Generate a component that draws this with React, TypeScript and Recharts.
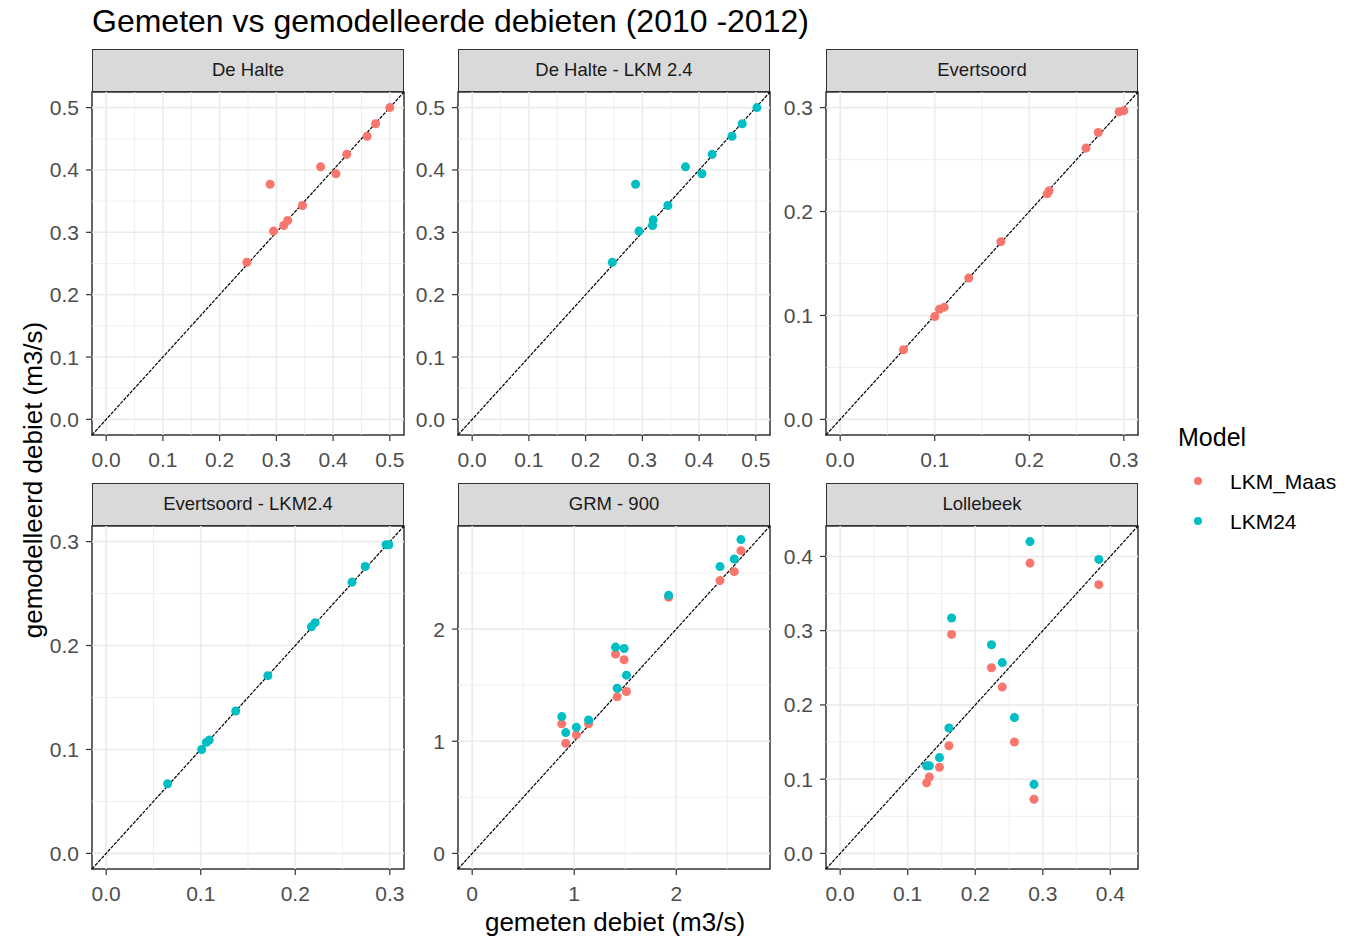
import React from 'react';
import { ScatterChart, Scatter, XAxis, YAxis, ZAxis, ReferenceLine, ReferenceArea } from 'recharts';

const MAAS_COLOR = '#F8766D';
const LKM24_COLOR = '#00BFC4';

// De Halte (LKM_Maas)
const deHalteObs = [0.248, 0.289, 0.295, 0.313, 0.32, 0.346, 0.378, 0.405, 0.424, 0.46, 0.475, 0.5];
const deHalteMod = [0.252, 0.377, 0.302, 0.311, 0.319, 0.343, 0.405, 0.394, 0.425, 0.454, 0.474, 0.5];

// De Halte - LKM 2.4 (LKM24)
const deHalteLkmObs = [0.247, 0.288, 0.294, 0.318, 0.319, 0.345, 0.376, 0.405, 0.423, 0.458, 0.476, 0.502];
const deHalteLkmMod = [0.252, 0.377, 0.302, 0.311, 0.32, 0.343, 0.405, 0.394, 0.425, 0.454, 0.474, 0.5];

// Evertsoord (LKM_Maas)
const evertObs = [0.067, 0.1, 0.105, 0.11, 0.136, 0.17, 0.219, 0.221, 0.26, 0.273, 0.295, 0.3];
const evertMod = [0.067, 0.099, 0.106, 0.108, 0.136, 0.171, 0.217, 0.22, 0.261, 0.276, 0.296, 0.297];

// Evertsoord - LKM2.4 (LKM24)
const evertLkmObs = [0.065, 0.101, 0.106, 0.109, 0.137, 0.171, 0.217, 0.221, 0.26, 0.274, 0.296, 0.299];
const evertLkmMod = [0.067, 0.1, 0.107, 0.109, 0.137, 0.171, 0.218, 0.222, 0.261, 0.276, 0.297, 0.297];

// GRM - 900 (both models)
const grmObs = [0.878, 0.917, 1.021, 1.141, 1.405, 1.489, 1.421, 1.512, 1.925, 2.429, 2.569, 2.634];
const grmMaas = [1.155, 0.982, 1.057, 1.155, 1.777, 1.726, 1.396, 1.443, 2.283, 2.432, 2.512, 2.699];
const grmLkm24 = [1.22, 1.077, 1.125, 1.19, 1.839, 1.827, 1.473, 1.589, 2.301, 2.557, 2.625, 2.798];

// Lollebeek (both models)
const lolObs = [0.128, 0.132, 0.147, 0.161, 0.165, 0.224, 0.24, 0.258, 0.281, 0.287, 0.383];
const lolMaas = [0.095, 0.103, 0.116, 0.145, 0.295, 0.25, 0.224, 0.15, 0.391, 0.073, 0.362];
const lolLkm24 = [0.118, 0.118, 0.129, 0.169, 0.317, 0.281, 0.257, 0.183, 0.42, 0.093, 0.396];

// axis breaks
const halfTicks = [0, 0.1, 0.2, 0.3, 0.4, 0.5];
const halfMinor = [0.05, 0.15, 0.25, 0.35, 0.45];
const thirdTicks = [0, 0.1, 0.2, 0.3];
const thirdMinor = [0.05, 0.15, 0.25];
const grmTicks = [0, 1, 2];
const grmMinor = [0.5, 1.5, 2.5];
const lolTicks = [0, 0.1, 0.2, 0.3, 0.4];
const lolMinor = [0.05, 0.15, 0.25, 0.35];

const legendItems = [
  { name: 'LKM_Maas', color: MAAS_COLOR },
  { name: 'LKM24', color: LKM24_COLOR },
];

const toPoints = (obs: number[], mod: number[]) => obs.map((x, i) => ({ x, y: mod[i] }));

const panels = [
  { title: 'De Halte', col: 0, row: 0, domain: [-0.025, 0.525], ticks: halfTicks, minor: halfMinor, digits: 1,
    series: [{ color: MAAS_COLOR, data: toPoints(deHalteObs, deHalteMod) }] },
  { title: 'De Halte - LKM 2.4', col: 1, row: 0, domain: [-0.025, 0.525], ticks: halfTicks, minor: halfMinor, digits: 1,
    series: [{ color: LKM24_COLOR, data: toPoints(deHalteLkmObs, deHalteLkmMod) }] },
  { title: 'Evertsoord', col: 2, row: 0, domain: [-0.015, 0.315], ticks: thirdTicks, minor: thirdMinor, digits: 1,
    series: [{ color: MAAS_COLOR, data: toPoints(evertObs, evertMod) }] },
  { title: 'Evertsoord - LKM2.4', col: 0, row: 1, domain: [-0.015, 0.315], ticks: thirdTicks, minor: thirdMinor, digits: 1,
    series: [{ color: LKM24_COLOR, data: toPoints(evertLkmObs, evertLkmMod) }] },
  { title: 'GRM - 900', col: 1, row: 1, domain: [-0.139, 2.919], ticks: grmTicks, minor: grmMinor, digits: 0,
    series: [
      { color: MAAS_COLOR, data: toPoints(grmObs, grmMaas) },
      { color: LKM24_COLOR, data: toPoints(grmObs, grmLkm24) },
    ] },
  { title: 'Lollebeek', col: 2, row: 1, domain: [-0.021, 0.441], ticks: lolTicks, minor: lolMinor, digits: 1,
    series: [
      { color: MAAS_COLOR, data: toPoints(lolObs, lolMaas) },
      { color: LKM24_COLOR, data: toPoints(lolObs, lolLkm24) },
    ] },
];

const COL_X = [92, 458, 826];
const ROW_Y = [92, 526];
const PLOT_W = 312;
const PLOT_H = 343;
const STRIP_H = 43;
const Y_AXIS_W = 60;
const X_AXIS_H = 40;
const PAD = 2;
const FONT = '"Liberation Sans", Arial, sans-serif';

function Panel({ p }: { p: (typeof panels)[number] }) {
  const [d0, d1] = p.domain;
  const fmt = (v: number) => v.toFixed(p.digits);
  const left = COL_X[p.col];
  const top = ROW_Y[p.row];
  return (
    <>
      <div
        style={{
          position: 'absolute', left, top: top - STRIP_H, width: PLOT_W, height: STRIP_H,
          boxSizing: 'border-box', border: '1.5px solid #333333', background: '#D9D9D9',
          display: 'flex', alignItems: 'center', justifyContent: 'center',
          fontSize: 18.5, lineHeight: 1, color: '#1A1A1A',
        }}
      >
        {p.title}
      </div>
      <div style={{ position: 'absolute', left: left - Y_AXIS_W, top: top - PAD }}>
        <ScatterChart
          width={Y_AXIS_W + PLOT_W + PAD}
          height={PAD + PLOT_H + X_AXIS_H}
          margin={{ top: PAD, right: PAD, bottom: 0, left: 0 }}
        >
          <XAxis
            type="number" dataKey="x" domain={p.domain} allowDataOverflow ticks={p.ticks} interval={0}
            tickFormatter={fmt} height={X_AXIS_H} axisLine={false} tickSize={6} tickMargin={11}
            tickLine={{ stroke: '#333333', strokeWidth: 1.2 }} tick={{ fill: '#4D4D4D', fontSize: 21 }}
          />
          <YAxis
            type="number" dataKey="y" domain={p.domain} allowDataOverflow ticks={p.ticks} interval={0}
            tickFormatter={fmt} width={Y_AXIS_W} axisLine={false} tickSize={6} tickMargin={7}
            tickLine={{ stroke: '#333333', strokeWidth: 1.2 }} tick={{ fill: '#4D4D4D', fontSize: 21 }}
          />
          <ZAxis range={[56, 56]} />
          {p.minor.map((v) => (
            <ReferenceLine key={'mx' + v} x={v} stroke="#EBEBEB" strokeWidth={0.8} />
          ))}
          {p.minor.map((v) => (
            <ReferenceLine key={'my' + v} y={v} stroke="#EBEBEB" strokeWidth={0.8} />
          ))}
          {p.ticks.map((v) => (
            <ReferenceLine key={'gx' + v} x={v} stroke="#EBEBEB" strokeWidth={1.6} />
          ))}
          {p.ticks.map((v) => (
            <ReferenceLine key={'gy' + v} y={v} stroke="#EBEBEB" strokeWidth={1.6} />
          ))}
          <ReferenceLine
            segment={[{ x: d0, y: d0 }, { x: d1, y: d1 }]}
            stroke="#000000" strokeWidth={1.2} strokeDasharray="3.5 1.2"
          />
          {p.series.map((s, i) => (
            <Scatter key={i} data={s.data} fill={s.color} isAnimationActive={false} />
          ))}
          <ReferenceArea
            x1={d0} x2={d1} y1={d0} y2={d1}
            fill="none" fillOpacity={0} stroke="#333333" strokeWidth={1.5}
          />
        </ScatterChart>
      </div>
    </>
  );
}

export default function App() {
  return (
    <div
      style={{
        position: 'absolute', left: 0, top: 0, width: 1365, height: 938,
        background: '#FFFFFF', fontFamily: FONT,
      }}
    >
      <div style={{ position: 'absolute', left: 92, top: 5, fontSize: 32, lineHeight: 1, color: '#000000', whiteSpace: 'nowrap' }}>
        Gemeten vs gemodelleerde debieten (2010 -2012)
      </div>

      {panels.map((p) => (
        <Panel key={p.title} p={p} />
      ))}

      <div
        style={{
          position: 'absolute', left: 615, top: 909, transform: 'translateX(-50%)',
          fontSize: 26, lineHeight: 1, color: '#000000', whiteSpace: 'nowrap',
        }}
      >
        gemeten debiet (m3/s)
      </div>
      <div
        style={{
          position: 'absolute', left: 33, top: 480, transform: 'translate(-50%, -50%) rotate(-90deg)',
          fontSize: 26, lineHeight: 1, color: '#000000', whiteSpace: 'nowrap',
        }}
      >
        gemodelleerd debiet (m3/s)
      </div>

      <div style={{ position: 'absolute', left: 1178, top: 425, fontSize: 25, lineHeight: 1, color: '#000000' }}>
        Model
      </div>
      {legendItems.map((item, i) => (
        <div key={item.name}>
          <svg style={{ position: 'absolute', left: 1192, top: 475 + i * 40 }} width={12} height={12}>
            <circle cx={6} cy={6} r={4} fill={item.color} />
          </svg>
          <div style={{ position: 'absolute', left: 1230, top: 471 + i * 40, fontSize: 21, lineHeight: 1, color: '#000000' }}>
            {item.name}
          </div>
        </div>
      ))}
    </div>
  );
}
